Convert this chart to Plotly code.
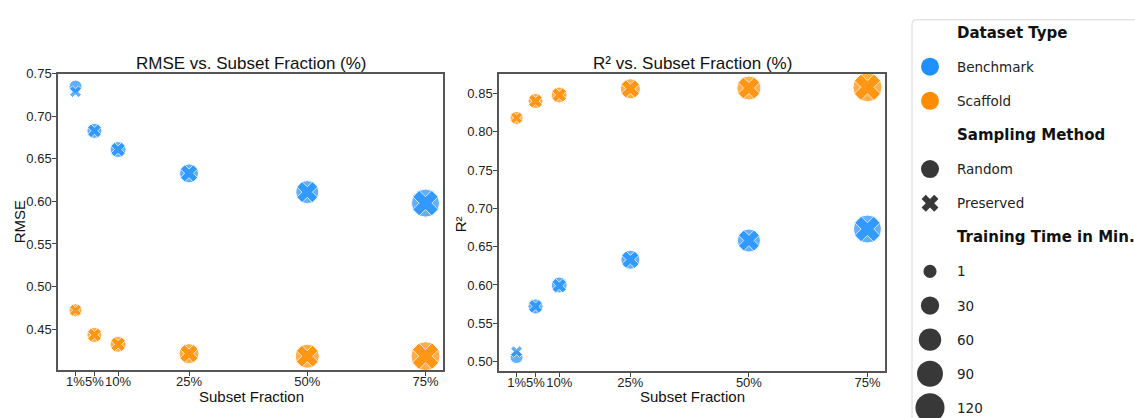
import numpy as np
import plotly.graph_objects as go

# ---------------- data ----------------
fractions = [1, 5, 10, 25, 50, 75]
fraction_labels = ["1%", "5%", "10%", "25%", "50%", "75%"]

rmse_benchmark_random = [0.735, 0.683, 0.661, 0.633, 0.611, 0.598]
rmse_benchmark_preserved = [0.729, 0.683, 0.661, 0.633, 0.611, 0.598]
rmse_scaffold_random = [0.472, 0.443, 0.432, 0.421, 0.418, 0.418]
rmse_scaffold_preserved = [0.472, 0.443, 0.432, 0.421, 0.418, 0.418]

r2_benchmark_random = [0.506, 0.572, 0.600, 0.633, 0.658, 0.673]
r2_benchmark_preserved = [0.513, 0.572, 0.599, 0.633, 0.658, 0.673]
r2_scaffold_random = [0.818, 0.840, 0.848, 0.856, 0.857, 0.858]
r2_scaffold_preserved = [0.818, 0.840, 0.848, 0.856, 0.857, 0.858]

time_benchmark = [1, 11, 16, 35, 65, 110]   # training time in minutes
time_scaffold = [1, 11, 16, 42, 73, 120]

dataset_types = ["Benchmark", "Scaffold"]
dataset_colors = ["#1E90FF", "#FF8C00"]
sampling_methods = ["Random", "Preserved"]
sampling_symbols = ["circle", "x"]
size_legend_values = [1, 30, 60, 90, 120]

rmse_ticks = [0.45, 0.50, 0.55, 0.60, 0.65, 0.70, 0.75]
r2_ticks = [0.50, 0.55, 0.60, 0.65, 0.70, 0.75, 0.80, 0.85]


def marker_diam(t):
    return np.sqrt(165 + 5.65 * np.asarray(t, dtype=float))


W, H = 1135, 418
def px(x):
    return x / W
def py(y):
    return 1 - y / H

PLOT_FONT = "Liberation Sans, Arial, sans-serif"
LEG_FONT = "DejaVu Sans, sans-serif"
X_SCALE = 0.8

fig = go.Figure()

series = {
    "x": {
        ("Benchmark", "Random"): rmse_benchmark_random,
        ("Benchmark", "Preserved"): rmse_benchmark_preserved,
        ("Scaffold", "Random"): rmse_scaffold_random,
        ("Scaffold", "Preserved"): rmse_scaffold_preserved,
    },
    "x2": {
        ("Benchmark", "Random"): r2_benchmark_random,
        ("Benchmark", "Preserved"): r2_benchmark_preserved,
        ("Scaffold", "Random"): r2_scaffold_random,
        ("Scaffold", "Preserved"): r2_scaffold_preserved,
    },
}
times = {"Benchmark": time_benchmark, "Scaffold": time_scaffold}

for xa, ya in [("x", "y"), ("x2", "y2")]:
    for mi, method in enumerate(sampling_methods):
        for di, dt in enumerate(dataset_types):
            d = marker_diam(times[dt])
            if method == "Preserved":
                d = d * X_SCALE
            fig.add_trace(go.Scatter(
                x=fractions, y=series[xa][(dt, method)], mode="markers",
                xaxis=xa, yaxis=ya, showlegend=False, cliponaxis=False,
                marker=dict(symbol=sampling_symbols[mi], size=d,
                            color=dataset_colors[di],
                            line=dict(color="white", width=1)),
            ))

axis_common = dict(
    showgrid=False, zeroline=False, showline=True, mirror=True,
    linecolor="#555555", linewidth=1.5, ticks="outside", ticklen=4,
    tickwidth=1, tickcolor="#444444", tickangle=0,
    tickfont=dict(family=PLOT_FONT, size=13, color="#222222"),
)

fig.update_layout(
    width=W, height=H, margin=dict(l=0, r=0, t=0, b=0),
    paper_bgcolor="white", plot_bgcolor="white",
    xaxis=dict(domain=[px(58), px(443)], range=[-2.7, 78.7], anchor="y",
               tickvals=fractions, ticktext=fraction_labels,
               ticklabelstandoff=-5, **axis_common),
    yaxis=dict(domain=[py(369), py(68)], range=[0.402, 0.75], anchor="x",
               tickvals=rmse_ticks, tickformat=".2f", ticklabelstandoff=-2, **axis_common),
    xaxis2=dict(domain=[px(499), px(885)], range=[-2.7, 78.7], anchor="y2",
                tickvals=fractions, ticktext=fraction_labels,
                ticklabelstandoff=-5, **axis_common),
    yaxis2=dict(domain=[py(370), py(68)], range=[0.488, 0.8755], anchor="x2",
                tickvals=r2_ticks, tickformat=".2f", ticklabelstandoff=-2, **axis_common),
    xaxis3=dict(domain=[px(900), 1], range=[900, W], visible=False, anchor="y3"),
    yaxis3=dict(domain=[0, 1], range=[H, 0], visible=False, anchor="x3"),
)

annotations = []
# titles
for cx, txt in [(251, "RMSE vs. Subset Fraction (%)"), (692, "R² vs. Subset Fraction (%)")]:
    annotations.append(dict(x=px(cx), y=py(57), xref="paper", yref="paper",
                            text=txt, showarrow=False, xanchor="center", yanchor="middle",
                            font=dict(family=PLOT_FONT, size=17, color="#111111")))
for cx, txt in [(251, "Subset Fraction"), (692, "Subset Fraction")]:
    annotations.append(dict(x=px(cx), y=py(396), xref="paper", yref="paper",
                            text=txt, showarrow=False, xanchor="center", yanchor="middle",
                            font=dict(family=PLOT_FONT, size=15, color="#111111")))
for cx, cy, txt in [(19, 219, "RMSE"), (460, 221, "R²")]:
    annotations.append(dict(x=px(cx), y=py(cy), xref="paper", yref="paper",
                            text=txt, showarrow=False, textangle=-90,
                            xanchor="center", yanchor="middle",
                            font=dict(family=PLOT_FONT, size=15, color="#111111")))

# ---------------- custom legend ----------------
ROW0, ROW_STEP = 26, 34.7
MX, TX = 930, 955
LEG_GREY = "#383838"

rows = []
rows.append(("title", "Dataset Type", None))
for dt, col in zip(dataset_types, dataset_colors):
    rows.append(("item", dt, dict(symbol="circle", size=18, color=col)))
rows.append(("title", "Sampling Method", None))
for m, s in zip(sampling_methods, sampling_symbols):
    rows.append(("item", m, dict(symbol=s, size=18 if s == "circle" else 15, color=LEG_GREY)))
rows.append(("title", "Training Time in Min.", None))
for v in size_legend_values:
    rows.append(("item", str(v), dict(symbol="circle", size=float(marker_diam(v)), color=LEG_GREY)))

for i, (kind, label, mk) in enumerate(rows):
    yy = ROW0 + ROW_STEP * i
    if kind == "title":
        annotations.append(dict(x=TX, y=yy, xref="x3", yref="y3", text="<b>" + label + "</b>",
                                showarrow=False, xanchor="left", yanchor="middle",
                                font=dict(family=LEG_FONT, size=15, color="#111111")))
    else:
        annotations.append(dict(x=TX, y=yy, xref="x3", yref="y3", text=label,
                                showarrow=False, xanchor="left", yanchor="middle",
                                font=dict(family=LEG_FONT, size=13.5, color="#222222")))
        fig.add_trace(go.Scatter(x=[MX], y=[yy], mode="markers", xaxis="x3", yaxis="y3",
                                 showlegend=False, cliponaxis=False,
                                 marker=dict(symbol=mk["symbol"], size=mk["size"],
                                             color=mk["color"], line=dict(width=0))))

fig.update_layout(annotations=annotations)
fig.add_shape(type="path", xref="x3", yref="y3",
              path="M 912,430 L 912,17 Q 912,13 916,13 L 1150,13",
              line=dict(color="#d8d8d8", width=1), layer="below")

fig.write_html("out.html", config={"displayModeBar": False},
               post_script="document.body.style.margin='0';document.body.style.overflow='hidden';")
